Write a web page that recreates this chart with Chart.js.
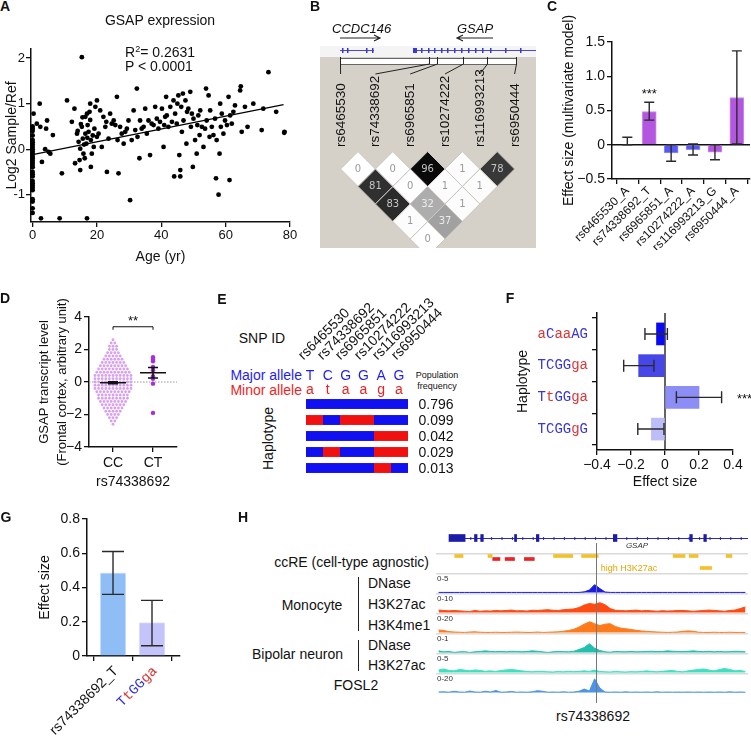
<!DOCTYPE html>
<html>
<head>
<meta charset="utf-8">
<script src="https://cdn.jsdelivr.net/npm/chart.js@4.4.1/dist/chart.umd.min.js"></script>
<style>
body{margin:0;width:751px;height:741px;position:relative;background:#fff;overflow:hidden;font-family:'Liberation Sans',Arial,sans-serif;color:#111}
canvas{position:absolute}
.t{position:absolute;white-space:nowrap;line-height:1;font-size:14px}
.c{transform:translate(-50%,-50%)}
.l{transform:translate(0,-50%)}
.r{transform:translate(-100%,-50%)}
.L{position:absolute;font-weight:bold;font-size:14px;line-height:1;transform:translate(-50%,-50%)}
.v90{position:absolute;white-space:nowrap;line-height:1;transform-origin:left top;transform:rotate(-90deg)}
.r45{position:absolute;white-space:nowrap;line-height:1;transform-origin:left bottom;transform:rotate(-45deg)}
.vl{position:absolute;border-left:1px solid #222;width:0}
.tk{position:absolute;font-size:8px;color:#333;line-height:1;transform:translate(0,-50%)}
</style>
</head>
<body>
<canvas id="cA" width="300" height="245" style="left:0;top:25px"></canvas>
<canvas id="cB" width="216" height="248" style="left:320px;top:0"></canvas>
<canvas id="cC" width="206" height="250" style="left:545px;top:0"></canvas>
<canvas id="cD" width="200" height="215" style="left:0;top:280px"></canvas>
<canvas id="cE" width="102" height="80" style="left:306px;top:396px"></canvas>
<canvas id="cF" width="251" height="195" style="left:500px;top:300px"></canvas>
<canvas id="cG" width="200" height="241" style="left:0;top:500px"></canvas>
<canvas id="cHgene" width="312" height="23" style="left:436px;top:530px"></canvas>
<canvas id="cHccre" width="312" height="20" style="left:436px;top:553px"></canvas>
<canvas id="cT0" width="312" height="20" style="left:436px;top:573px"></canvas>
<canvas id="cT1" width="312" height="20" style="left:436px;top:593px"></canvas>
<canvas id="cT2" width="312" height="20" style="left:436px;top:613px"></canvas>
<canvas id="cT3" width="312" height="20" style="left:436px;top:633px"></canvas>
<canvas id="cT4" width="312" height="20" style="left:436px;top:653px"></canvas>
<canvas id="cT5" width="312" height="30" style="left:436px;top:673px"></canvas>

<div class="L" style="left:5px;top:6px">A</div>
<div class="L" style="left:315px;top:6px">B</div>
<div class="L" style="left:552px;top:6px">C</div>
<div class="L" style="left:5px;top:298px">D</div>
<div class="L" style="left:222px;top:299px">E</div>
<div class="L" style="left:510px;top:298px">F</div>
<div class="L" style="left:6px;top:517px">G</div>
<div class="L" style="left:243px;top:517px">H</div>

<div class="t c" style="left:160px;top:20px">GSAP expression</div>
<div class="t l" style="left:125px;top:52px">R<sup style="font-size:9px">2</sup>= 0.2631</div>
<div class="t l" style="left:125px;top:66px">P &lt; 0.0001</div>

<div class="t l" style="left:332px;top:28px;font-style:italic;font-size:13px">CCDC146</div>
<div class="t l" style="left:457px;top:28px;font-style:italic;font-size:13px">GSAP</div>

<div class="t c" style="left:262px;top:338px">SNP ID</div>
<div class="t r" style="left:302px;top:375px;color:#1e1ef0">Major allele</div>
<div class="t r" style="left:302px;top:390px;color:#f01e1e">Minor allele</div>
<div class="t c" style="left:437px;top:375px;font-size:9px">Population</div>
<div class="t c" style="left:437px;top:386px;font-size:9px">frequency</div>
<div class="v90" style="left:261px;top:470px;font-size:14px">Haplotype</div>
<div id="eText"></div>
<div id="bText"></div>

<div class="t r" style="left:429px;top:562px">ccRE (cell-type agnostic)</div>
<div class="t c" style="left:312px;top:605px">Monocyte</div>
<div class="vl" style="left:358px;top:577px;height:54px"></div>
<div class="t l" style="left:368px;top:583px">DNase</div>
<div class="t l" style="left:368px;top:604px">H3K27ac</div>
<div class="t l" style="left:368px;top:625px">H3K4me1</div>
<div class="t r" style="left:343px;top:654px">Bipolar neuron</div>
<div class="vl" style="left:358px;top:640px;height:31px"></div>
<div class="t l" style="left:368px;top:645px">DNase</div>
<div class="t l" style="left:368px;top:665px">H3K27ac</div>
<div class="t c" style="left:356px;top:685px">FOSL2</div>
<div class="t c" style="left:593px;top:716px">rs74338692</div>
<div class="t c" style="left:637px;top:546px;font-size:8px;font-style:italic;color:#333">GSAP</div>
<div class="t c" style="left:629px;top:568px;font-size:9px;color:#e0a800">high H3K27ac</div>
<div class="tk" style="left:437px;top:579px">0-5</div>
<div class="tk" style="left:437px;top:599px">0-10</div>
<div class="tk" style="left:437px;top:619px">0-20</div>
<div class="tk" style="left:437px;top:639px">0-1</div>
<div class="tk" style="left:437px;top:659px">0-5</div>
<div class="tk" style="left:437px;top:679px">0-20</div>

<script>
(function(){
    'use strict';

    //panelA
    const ageYr = [
        0,0,0,0,0,0,0,0,0,0,
        0,0,0,0,0,0,0,0,0,0,
        0,0,0,0,0,0,0,0,0,0.3,
        1.3,2.2,2.4,2.6,2.9,3.9,4.2,4.5,5,5.5,
        6.3,8.4,9.1,10.7,12.2,13,13.2,13.8,14.3,14.6,
        14.8,14.8,15.3,15.3,15.6,15.8,16.4,16.4,16.7,16.9,
        16.9,17.1,17.4,17.7,17.9,17.9,18.1,18.4,18.1,19,
        19.5,20,20,20.5,21,21.5,22,22.6,22.9,23.1,
        23.6,24.1,24.6,25.2,25.7,26.2,26.4,26.7,27.2,27.7,
        28.3,28.8,29.3,29.8,30.3,30.8,31.4,31.9,32.4,32.6,
        33.2,33.4,33.9,34.5,35,35.5,36,36.5,37,37.6,
        38.1,38.6,39.1,39.6,40.2,40.7,40.9,41.2,41.5,41.7,
        42.2,42.8,43.3,43.8,44,44.3,44.8,45,45.3,45.6,
        45.9,45.9,46.2,46.4,46.7,46.9,47.5,47.8,48,48.4,
        49,49.2,49.5,49.8,50,50.5,51,51.2,51.5,51.9,
        52.1,52.6,53.1,53.6,53.9,54.1,54.7,55,55.2,55.7,
        56.2,56.7,57,57.2,57.8,58.1,58.3,58.5,58.8,59.3,
        59.8,60.4,60.9,61.2,61.4,61.9,62.4,62.9,64.5,64.7,
        65,66,66.8,68.6,71.2,71.7,73.3,75.7,78.2,78.3,
        14,15,15.5,16,16.2,17,18.7,19.2
    ];
    const log2Ratio = [
        0.5,0.45,0.4,0.3,0.2,0.15,0.1,0.05,0,-0.05,
        -0.1,-0.15,-0.2,-0.25,-0.3,-0.35,-0.4,-0.5,-0.55,-0.6,
        -0.7,-0.75,-0.8,-0.85,-0.9,-1.1,-1.15,-1.3,-1.4,0.78,
        0.56,1.0,0.49,-1.52,-0.28,0,0.45,0.63,-0.06,-0.1,
        0.31,-1.52,-0.53,1.07,0.6,0.89,-0.31,0.34,0.16,-0.24,
        -0.46,0.01,2.02,0.49,0.23,-0.1,0.71,0.34,0.12,0.78,
        -1.52,0.53,0.38,0.82,0.64,1.0,0.2,-0.1,-0.39,0.05,
        0.93,1.07,0.27,0.34,0.85,0.05,0.71,0.49,0.6,-0.5,
        0.23,0.78,0.56,0.63,0.53,1.15,0.2,-0.53,0.49,0.34,
        0.12,0.38,0.45,0.63,-1.12,0.2,0.85,0.42,1.33,0.27,
        -0.2,0.63,0.45,0.49,0.89,0.34,0.63,-0.13,0.56,0.53,
        0.93,0.67,0.45,0.6,0.89,0.05,0.53,0.71,1.15,0.74,
        0.49,0.93,0.6,1.07,-0.6,0.78,0.56,1.0,1.18,-0.13,
        -0.46,-0.6,0.93,0.38,1.22,0.63,1.07,0.12,0.82,0.89,
        1.26,0.49,0.78,-0.39,0.67,0.2,-0.1,0.53,0.74,0.31,
        0.85,0.49,0.05,0.45,1.33,0.63,1.18,0.27,0.85,0.49,
        0.31,0.67,-0.64,0.2,-1.0,-0.1,1.0,0.49,0.78,0.34,
        0.63,0.53,1.15,-0.68,0.74,0.56,0.82,0.96,1.29,1.38,
        0.38,0.93,0.49,1.0,0.42,0.89,1.69,0.82,0.36,0.38,
        0.4,0.55,0.7,0.1,-0.2,0.25,0.3,0.45
    ];
    const fitAge = [0, 78];
    const fitLog2 = [-0.12, 0.98];
    const ageTicks = [0, 20, 40, 60, 80];
    const log2Ticks = [-1, 0, 1, 2];

    //panelB
    const snpIds = ['rs6465530', 'rs74338692', 'rs6965851', 'rs10274222', 'rs116993213', 'rs6950444'];
    const ldRows = [[0, 0, 96, 1, 78], [81, 0, 1, 1], [83, 32, 1], [1, 37], [0]];

    //panelC
    const cAllele = ['A', 'T', 'A', 'A', 'G', 'A'];
    const cEffect = [0, 0.485, -0.12, -0.07, -0.11, 0.69];
    const cLo = [0, 0.36, -0.24, -0.15, -0.22, 0.01];
    const cHi = [0.11, 0.62, 0, 0.01, 0, 1.37];
    const cTicks = [-0.5, 0, 0.5, 1.0, 1.5];
    const cColors = ['#b457e0', '#b457e0', '#5858f2', '#5858f2', '#b457e0', '#b457e0'];

    //panelD
    const dGroups = ['CC', 'CT'];
    const ccLevels = [2.6,2.4,2.2,2.0,1.8,1.6,1.4,1.2,1.0,0.8,0.6,0.4,0.2,0,
        -0.2,-0.4,-0.6,-0.8,-1.0,-1.2,-1.4,-1.6,-1.8,-2.0,-2.2,-2.4,-2.6];
    const ccCounts = [1,2,3,3,4,5,6,7,8,9,10,11,11,11,11,11,10,9,9,8,7,6,5,4,3,2,1];
    const ctValues = [1.53, 1.38, 1.27, 0.92, 0.86, 0.72, 0.35, 0.2, -0.1, -1.9];
    const dMeans = [-0.05, 0.57];
    const dSem = [0.06, 0.33];
    const dTicks = [-4, -2, 0, 2, 4];

    //panelE
    const majorAllele = 'TCGGAG';
    const minorAllele = 'ataaga';
    const haplotypes = ['TCGGAG', 'aCaaAG', 'TCGGga', 'TtGGga', 'TCGGgG'];
    const hapFreq = ['0.796', '0.099', '0.042', '0.029', '0.013'];

    //panelF
    const fHaps = ['aCaaAG', 'TCGGga', 'TtGGga', 'TCGGgG'];
    const fEffect = [-0.05, -0.155, 0.2, -0.08];
    const fLo = [-0.118, -0.243, 0.067, -0.16];
    const fHi = [0.014, -0.065, 0.333, -0.006];
    const fTicks = [-0.4, -0.2, 0, 0.2, 0.4];
    const fColors = ['#0b0bf2', '#4747e8', '#8d8df6', '#bdbdf9'];

    //panelG
    const gLabels = ['rs74338692_T', 'TtGGga'];
    const gEffect = [0.485, 0.195];
    const gLo = [0.36, 0.06];
    const gHi = [0.61, 0.325];
    const gTicks = [0, 0.2, 0.4, 0.6, 0.8];
    const gColors = ['#8fbef7', '#c4c4fb'];

    //panelH
    const snpPos = 30.8;
    const geneSpan = [2.5, 60];
    const geneExons = [[2.5, 5.6], [7.4, 7.9], [8.6, 9.1], [15.1, 15.5], [19.3, 19.8], [34.1, 34.8], [48.8, 49.3], [51.5, 52.0]];
    const ccreYellow = [[3.6, 5.2], [10.0, 10.8], [22.6, 26.3], [28.0, 31.2], [45.6, 47.9], [48.7, 50.4], [55.8, 56.9]];
    const ccreRed = [[10.9, 12.3], [13.3, 15.1], [17.0, 18.9]];
    const ccreYellow2 = [[50.8, 53.0]];
    const monoDnase = [0,0,0,0,0,0,0,0,0,0, 0,0,0,0,0,0,0,0,0,0, 0,0,0,0,0,0,0,0,0.15,0.6,
        2.0,1.0,0.1,0,0,0,0,0,0,0, 0,0,0,0,0,0,0,0,0,0, 0,0,0,0,0,0,0,0,0,0];
    const monoK27 = [1.2,1.0,0.8,1.0,0.8,0.6,0.5,1.0,0.6,0.8, 0.7,1.0,0.8,1.0,1.2,0.8,0.9,0.7,1.1,1.0,
        1.2,1.4,1.1,1.0,1.4,1.6,1.8,2.5,3.8,4.6, 4.2,5.0,4.0,2.0,1.1,1.0,0.8,1.0,1.2,0.8,
        1.0,0.8,0.6,0.9,0.7,0.8,1.0,1.0,0.8,0.6, 0.8,1.0,1.2,1.0,0.8,0.6,1.0,1.2,2.0,2.8];
    const monoK4me1 = [2.5,2,0.8,0.4,0.2,0,0.4,0.6,0.2,0, 0,0.2,0,0,0.2,0.4,0.2,0,0,0.4,
        0,0.2,0.4,0.6,1.2,2,3.2,5.5,8.5,11, 9,7,8.5,9,6,4.5,3.8,3,2.2,1.5,
        1.1,0.8,0.4,0.2,0,0.2,0.4,1.2,1.5,1.2, 0.2,0,0,0.2,0,0,0.2,0,0,0];
    const bipDnase = [0.08,0.03,0.05,0,0.03,0.04,0,0.03,0.05,0.08, 0.05,0.04,0.05,0.03,0.06,0.05,0.03,0.05,0.08,0.06,
        0.03,0,0.03,0.05,0.04,0.03,0.06,0.15,0.25,0.45, 0.22,0.1,0.03,0.01,0.05,0.04,0.03,0.05,0.03,0.04,
        0.05,0.06,0.04,0.05,0.08,0.06,0.05,0.04,0.06,0.08, 0.05,0.04,0.06,0.03,0.05,0.03,0.04,0.06,0.05,0.03];
    const bipK27 = [0.6,0.9,0.5,0.4,0.75,0.6,0.4,0.65,0.5,0.3, 0.4,0.25,0.5,0.65,0.75,0.6,0.4,0.25,0.15,0.3,
        0.25,0.15,0.1,0.25,0.15,0.3,0.2,0.25,0.4,0.25, 0.6,0.25,0.15,0.1,0.25,0.15,0.1,0.2,0.15,0.25,
        0.4,0.25,0.15,0.3,0.4,0.5,0.25,0.15,0.4,0.6, 0.75,0.9,0.6,0.4,0.75,1.0,0.75,0.4,0.5,0.25];
    const fosl2 = [0.4,0.6,0.2,1.2,0.4,0.2,1.4,0.4,0.2,1.2, 0.4,2.0,0.2,0.4,1.0,0.2,0.4,0.2,0.6,1.8,
        1.2,0.2,0.4,0.2,0.6,0.2,0.4,1.2,3.5,1.5, 14,4.5,0.4,0.2,0.4,0.2,0.6,0.2,0.4,0.2,
        0.4,0.2,0.6,0.2,0.4,0.2,0.4,0.2,0.4,0.2, 0.4,0.2,0.4,0.2,0.4,0.2,0.6,0.2,0.4,0.2];


    Chart.defaults.font.family = "'Liberation Sans', Arial, sans-serif";
    Chart.defaults.color = '#111';
    Chart.defaults.animation = false;
    Chart.defaults.responsive = false;
    Chart.defaults.layout.autoPadding = false;
    Chart.defaults.plugins.legend.display = false;
    Chart.defaults.plugins.tooltip.enabled = false;

    const minus = v => (v < 0 ? '\u2212' : '') + Math.abs(v);
    const minus1 = v => v === 0 ? '0' : (v < 0 ? '\u2212' : '') + Math.abs(v).toFixed(1);

    function fixBox(size){
        return function(s){
            if (s.isHorizontal()) s.height = size; else s.width = size;
            s.paddingLeft = s.paddingRight = s.paddingTop = s.paddingBottom = 0;
        };
    }
    function setTicks(vals){
        return function(s){ s.ticks = vals.map(v => ({value: v})); };
    }
    function axis(o){
        const t = Object.assign({font: {size: 14}, color: '#111', padding: 2, autoSkip: false, maxRotation: 0}, o.ticks || {});
        return Object.assign({
            grid: {drawOnChartArea: false, color: '#111', lineWidth: 1.3, tickLength: 5},
            border: {color: '#111', width: 1.5}
        }, o, {ticks: t});
    }
    function title(text, size){
        return {display: true, text: text, font: {size: size || 14}, color: '#111', padding: {top: 4, bottom: 4}};
    }
    function errorBars(lo, hi, horiz, cap){
        return {
            id: 'errorBars',
            afterDatasetsDraw(chart){
                const ctx = chart.ctx, xs = chart.scales.x, ys = chart.scales.y;
                ctx.save();
                ctx.strokeStyle = '#2a2a2a';
                ctx.lineWidth = 1.4;
                lo.forEach((l, i) => {
                    ctx.beginPath();
                    if (horiz){
                        const y = ys.getPixelForValue(i), a = xs.getPixelForValue(l), b = xs.getPixelForValue(hi[i]);
                        ctx.moveTo(a, y); ctx.lineTo(b, y);
                        ctx.moveTo(a, y - cap); ctx.lineTo(a, y + cap);
                        ctx.moveTo(b, y - cap); ctx.lineTo(b, y + cap);
                    } else {
                        const x = xs.getPixelForValue(i), a = ys.getPixelForValue(l), b = ys.getPixelForValue(hi[i]);
                        ctx.moveTo(x, a); ctx.lineTo(x, b);
                        ctx.moveTo(x - cap, a); ctx.lineTo(x + cap, a);
                        ctx.moveTo(x - cap, b); ctx.lineTo(x + cap, b);
                    }
                    ctx.stroke();
                });
                ctx.restore();
            }
        };
    }
    function drawColoredText(ctx, str, x, y){
        for (const ch of str){
            ctx.fillStyle = ch === ch.toUpperCase() ? '#3535d8' : '#e03535';
            ctx.fillText(ch, x, y);
            x += ctx.measureText(ch).width;
        }
    }


    //panelA
    new Chart(document.getElementById('cA'), {
        type: 'scatter',
        data: {
            datasets: [
                {
                    data: ageYr.map((a, i) => ({x: a, y: log2Ratio[i]})),
                    pointRadius: 2.4,
                    backgroundColor: '#000',
                    borderWidth: 0,
                    clip: false
                },
                {
                    type: 'line',
                    data: fitAge.map((a, i) => ({x: a, y: fitLog2[i]})),
                    borderColor: '#000',
                    borderWidth: 1.3,
                    pointRadius: 0
                }
            ]
        },
        options: {
            layout: {padding: {top: 24, right: 10}},
            scales: {
                x: axis({type: 'linear', min: -0.5, max: 80, afterBuildTicks: setTicks(ageTicks),
                    afterFit: fixBox(48), title: title('Age (yr)'),
                    ticks: {font: {size: 13}, padding: 1}}),
                y: axis({type: 'linear', min: -1.6, max: 2.2, afterBuildTicks: setTicks(log2Ticks),
                    afterFit: fixBox(31), title: title('Log2 Sample/Ref'),
                    ticks: {font: {size: 13}, padding: 1}})
            }
        }
    });


    //panelB
    const ldPts = [], ldVals = [];
    ldRows.forEach((row, k) => {
        row.forEach((v, i) => {
            ldPts.push({x: i + (k + 1) / 2, y: k + 1});
            ldVals.push(v);
        });
    });
    const shade = v => { const g = Math.round(255 * (1 - v / 100)); return `rgb(${g},${g},${g})`; };

    const bDraw = {
        id: 'bDraw',
        beforeDraw(chart){
            const ctx = chart.ctx, xs = chart.scales.x;
            ctx.save();
            ctx.fillStyle = '#d5d1c9';
            ctx.fillRect(0, 57, 216, 191);
            ctx.fillStyle = '#f4f4f4';
            ctx.fillRect(0, 46, 216, 11);
            ctx.strokeStyle = '#4a4ad0';
            ctx.lineWidth = 1;
            ctx.beginPath();
            ctx.moveTo(20, 50.5); ctx.lineTo(54, 50.5);
            ctx.moveTo(93, 50.5); ctx.lineTo(216, 50.5);
            ctx.stroke();
            ctx.fillStyle = '#3a3ac8';
            [22, 27, 46, 52].forEach(x => ctx.fillRect(x, 48, 1.5, 5));
            ctx.fillRect(93, 48, 4, 5);
            [101, 108, 114, 121, 127, 134, 141, 148, 155, 162, 170, 185, 200].forEach(x => ctx.fillRect(x, 48, 1.5, 5));
            // bar and snp ticks
            ctx.fillStyle = '#fff';
            ctx.fillRect(20, 58, 176, 6);
            ctx.strokeStyle = '#666';
            ctx.strokeRect(20.5, 58.5, 176, 6);
            ctx.strokeStyle = '#222';
            [20, 109, 117, 143, 167, 196].forEach((p, i) => {
                const lx = xs.getPixelForValue(i);
                ctx.beginPath();
                ctx.moveTo(p + 0.5, 57);
                ctx.lineTo(p + 0.5, 64);
                ctx.lineTo(lx, 74);
                ctx.stroke();
            });
            // gene arrows
            ctx.lineWidth = 1.2;
            ctx.beginPath();
            ctx.moveTo(20, 38); ctx.lineTo(60, 38);
            ctx.moveTo(54, 35); ctx.lineTo(60, 38); ctx.lineTo(54, 41);
            ctx.moveTo(173, 38); ctx.lineTo(137, 38);
            ctx.moveTo(143, 35); ctx.lineTo(137, 38); ctx.lineTo(143, 41);
            ctx.stroke();
            ctx.restore();
        },
        afterDatasetsDraw(chart){
            const ctx = chart.ctx, xs = chart.scales.x, ys = chart.scales.y;
            ctx.save();
            ctx.font = "10px 'DejaVu Sans'";
            ctx.textAlign = 'center';
            ctx.textBaseline = 'middle';
            ldPts.forEach((p, i) => {
                const v = ldVals[i];
                ctx.fillStyle = v > 60 ? '#c4c4c4' : v > 20 ? '#ececec' : '#9a9a9a';
                ctx.fillText(String(v), xs.getPixelForValue(p.x), ys.getPixelForValue(p.y));
            });
            ctx.restore();
        }
    };

    new Chart(document.getElementById('cB'), {
        type: 'scatter',
        data: {
            datasets: [{
                data: ldPts,
                pointStyle: 'rectRot',
                pointRadius: 17.4,
                pointBackgroundColor: ldVals.map(shade),
                pointBorderColor: '#cbc7bf',
                pointBorderWidth: 1
            }]
        },
        options: {
            scales: {
                x: {type: 'linear', display: false, min: -0.592, max: 5.615},
                y: {type: 'linear', display: false, min: -8.657, max: 5.514, reverse: true}
            }
        },
        plugins: [bDraw]
    });

    const bText = document.getElementById('bText');
    snpIds.forEach((s, i) => {
        const d = document.createElement('div');
        d.className = 'v90';
        d.style.fontSize = '13.5px';
        d.style.left = (340.6 + 34.8 * i - 7) + 'px';
        d.style.top = '147px';
        d.textContent = s;
        bText.appendChild(d);
    });


    //panelC
    new Chart(document.getElementById('cC'), {
        type: 'bar',
        data: {
            datasets: [{
                data: cEffect.map((v, i) => ({x: i, y: v})),
                backgroundColor: cColors,
                borderColor: cColors.map(c => c + 'aa'),
                borderWidth: 1,
                barThickness: 14
            }]
        },
        options: {
            layout: {padding: {top: 42, left: 12, right: 1}},
            scales: {
                x: axis({type: 'linear', min: -0.7, max: 5.6, offset: false, afterBuildTicks: setTicks([0, 1, 2, 3, 4, 5]),
                    afterFit: fixBox(71),
                    ticks: {font: {size: 12}, minRotation: 45, maxRotation: 45, padding: 0,
                        callback: v => snpIds[v] + '_' + cAllele[v]}}),
                y: axis({type: 'linear', min: -0.5, max: 1.5, afterBuildTicks: setTicks(cTicks),
                    afterFit: fixBox(55), title: title('Effect size (multivariate model)'),
                    ticks: {callback: minus1}})
            }
        },
        plugins: [
            {
                id: 'zeroC',
                beforeDatasetsDraw(chart){
                    const ctx = chart.ctx, a = chart.chartArea, y0 = chart.scales.y.getPixelForValue(0);
                    ctx.save();
                    ctx.strokeStyle = '#111';
                    ctx.lineWidth = 1.3;
                    ctx.beginPath(); ctx.moveTo(a.left, y0); ctx.lineTo(a.right, y0); ctx.stroke();
                    ctx.restore();
                },
                afterDraw(chart){
                    const ctx = chart.ctx;
                    ctx.save();
                    ctx.font = "13px 'Liberation Sans'";
                    ctx.textAlign = 'center';
                    ctx.textBaseline = 'middle';
                    ctx.fillStyle = '#111';
                    ctx.fillText('***', chart.scales.x.getPixelForValue(1), chart.scales.y.getPixelForValue(0.74));
                    ctx.restore();
                }
            },
            errorBars(cLo, cHi, false, 5)
        ]
    });


    //panelD
    const ccPts = [];
    ccLevels.forEach((lv, r) => {
        const n = ccCounts[r];
        for (let k = 0; k < n; k++){
            ccPts.push({x: (k - (n - 1) / 2) * 0.09, y: lv});
        }
    });

    const dTitle = title(['GSAP transcript level', '(Frontal cortex, arbitrary unit)'], 13);
    dTitle.font.lineHeight = 1.35;

    new Chart(document.getElementById('cD'), {
        type: 'scatter',
        data: {
            datasets: [
                {data: ccPts, pointRadius: 1.4, backgroundColor: '#d9a0f2', borderWidth: 0},
                {data: ctValues.map(v => ({x: 1, y: v})), pointRadius: 2.2, backgroundColor: '#a52fe0', borderWidth: 0}
            ]
        },
        options: {
            layout: {padding: {top: 37, left: 32, right: 23}},
            scales: {
                x: axis({type: 'linear', min: -0.6, max: 1.6, afterBuildTicks: setTicks([0, 1]),
                    afterFit: fixBox(48), title: title('rs74338692'),
                    ticks: {padding: 3, callback: v => dGroups[v]}}),
                y: axis({type: 'linear', min: -4, max: 4, afterBuildTicks: setTicks(dTicks),
                    afterFit: fixBox(57), title: dTitle,
                    ticks: {callback: minus}})
            }
        },
        plugins: [{
            id: 'dExtras',
            beforeDatasetsDraw(chart){
                const ctx = chart.ctx, a = chart.chartArea, y0 = chart.scales.y.getPixelForValue(0);
                ctx.save();
                ctx.strokeStyle = '#9a9a9a';
                ctx.setLineDash([1.5, 1.5]);
                ctx.lineWidth = 1;
                ctx.beginPath(); ctx.moveTo(a.left, y0); ctx.lineTo(a.right, y0); ctx.stroke();
                ctx.restore();
            },
            afterDatasetsDraw(chart){
                const ctx = chart.ctx, x = chart.scales.x, y = chart.scales.y;
                ctx.save();
                ctx.strokeStyle = '#111';
                ctx.lineWidth = 1.5;
                dMeans.forEach((m, i) => {
                    const cx = x.getPixelForValue(i), ym = y.getPixelForValue(m);
                    const y1 = y.getPixelForValue(m - dSem[i]), y2 = y.getPixelForValue(m + dSem[i]);
                    ctx.beginPath();
                    ctx.moveTo(cx - 13, ym); ctx.lineTo(cx + 13, ym);
                    ctx.moveTo(cx, y1); ctx.lineTo(cx, y2);
                    ctx.moveTo(cx - 5, y1); ctx.lineTo(cx + 5, y1);
                    ctx.moveTo(cx - 5, y2); ctx.lineTo(cx + 5, y2);
                    ctx.stroke();
                });
                const by = y.getPixelForValue(3.4), xa = x.getPixelForValue(0), xb = x.getPixelForValue(1);
                ctx.lineWidth = 1;
                ctx.beginPath();
                ctx.moveTo(xa, by + 3); ctx.lineTo(xa, by); ctx.lineTo(xb, by); ctx.lineTo(xb, by + 3);
                ctx.stroke();
                ctx.fillStyle = '#111';
                ctx.font = "13px 'Liberation Sans'";
                ctx.textAlign = 'center';
                ctx.fillText('**', (xa + xb) / 2, by - 2);
                ctx.restore();
            }
        }]
    });


    //panelE
    new Chart(document.getElementById('cE'), {
        type: 'bar',
        data: {
            labels: haplotypes,
            datasets: majorAllele.split('').map((m, j) => ({
                data: haplotypes.map(() => 1),
                backgroundColor: haplotypes.map(h => h[j] === h[j].toUpperCase() ? '#1010f0' : '#f01010'),
                borderWidth: 0,
                barPercentage: 0.62,
                categoryPercentage: 1
            }))
        },
        options: {
            indexAxis: 'y',
            scales: {
                x: {stacked: true, min: 0, max: 6, display: false},
                y: {stacked: true, display: false}
            }
        }
    });

    const eText = document.getElementById('eText');
    function addText(cls, txt, x, y, style){
        const d = document.createElement('div');
        d.className = cls;
        d.style.left = x + 'px';
        d.style.top = y + 'px';
        if (style) Object.assign(d.style, style);
        d.textContent = txt;
        eText.appendChild(d);
    }
    snpIds.forEach((s, i) => {
        addText('r45', s, 305 + 18.5 * i, 362 - 14, {fontSize: '14px'});
    });
    majorAllele.split('').forEach((ch, i) => addText('t c', ch, 310 + 17.8 * i, 375, {color: '#1e1ef0'}));
    minorAllele.split('').forEach((ch, i) => addText('t c', ch, 310 + 17.8 * i, 389, {color: '#f01e1e'}));
    hapFreq.forEach((f, i) => addText('t c', f, 436, 404 + 16 * i));


    //panelF
    new Chart(document.getElementById('cF'), {
        type: 'bar',
        data: {
            datasets: [{
                data: fEffect.map((v, i) => ({x: v, y: i})),
                backgroundColor: fColors,
                borderWidth: 0,
                barThickness: 22
            }]
        },
        options: {
            indexAxis: 'y',
            layout: {padding: {top: 13, left: 11, right: 18}},
            scales: {
                x: axis({type: 'linear', min: -0.4, max: 0.4, afterBuildTicks: setTicks(fTicks),
                    afterFit: fixBox(45), title: title('Effect size'),
                    ticks: {callback: minus1}}),
                y: axis({type: 'linear', min: -0.66, max: 3.66, reverse: true, offset: false,
                    afterBuildTicks: setTicks([0, 1, 2, 3]),
                    afterFit: fixBox(86), title: title('Haplotype'),
                    ticks: {callback: () => ''}})
            }
        },
        plugins: [
            {
                id: 'fExtras',
                beforeDatasetsDraw(chart){
                    const ctx = chart.ctx, a = chart.chartArea, x0 = chart.scales.x.getPixelForValue(0);
                    ctx.save();
                    ctx.strokeStyle = '#111';
                    ctx.lineWidth = 1.3;
                    ctx.beginPath(); ctx.moveTo(x0, a.top); ctx.lineTo(x0, a.bottom); ctx.stroke();
                    ctx.restore();
                },
                afterDraw(chart){
                    const ctx = chart.ctx, ys = chart.scales.y;
                    ctx.save();
                    ctx.font = "14px 'Liberation Mono', monospace";
                    ctx.textBaseline = 'middle';
                    fHaps.forEach((h, i) => {
                        const w = ctx.measureText(h).width;
                        drawColoredText(ctx, h, ys.right - 9 - w, ys.getPixelForValue(i));
                    });
                    ctx.font = "13px 'Liberation Sans'";
                    ctx.fillStyle = '#111';
                    ctx.fillText('***', chart.chartArea.right + 4, ys.getPixelForValue(2) + 2);
                    ctx.restore();
                }
            },
            errorBars(fLo, fHi, true, 6)
        ]
    });


    //panelG
    new Chart(document.getElementById('cG'), {
        type: 'bar',
        data: {
            datasets: [{
                data: gEffect.map((v, i) => ({x: i, y: v})),
                backgroundColor: gColors,
                borderColor: '#e0e8ff',
                borderWidth: 1,
                barThickness: 26
            }]
        },
        options: {
            layout: {padding: {top: 19, left: 33, right: 20}},
            scales: {
                x: axis({type: 'linear', min: -0.667, max: 1.718, offset: false, afterBuildTicks: setTicks([0, 1]),
                    afterFit: fixBox(85), ticks: {callback: () => ''}}),
                y: axis({type: 'linear', min: 0, max: 0.8, afterBuildTicks: setTicks(gTicks),
                    afterFit: fixBox(54), title: title('Effect size'),
                    ticks: {callback: minus1}})
            }
        },
        plugins: [
            {
                id: 'gLabels',
                afterDraw(chart){
                    const ctx = chart.ctx, xs = chart.scales.x;
                    ctx.save();
                    ctx.textBaseline = 'middle';
                    gLabels.forEach((lab, i) => {
                        ctx.save();
                        ctx.translate(xs.getPixelForValue(i) + 3, xs.top + 13);
                        ctx.rotate(-Math.PI / 4);
                        if (i === 0){
                            ctx.font = "14px 'Liberation Sans'";
                            ctx.fillStyle = '#111';
                            ctx.textAlign = 'right';
                            ctx.fillText(lab, 0, 0);
                        } else {
                            ctx.font = "14px 'Liberation Mono', monospace";
                            const w = ctx.measureText(lab).width;
                            drawColoredText(ctx, lab, -w, 0);
                        }
                        ctx.restore();
                    });
                    ctx.restore();
                }
            },
            errorBars(gLo, gHi, false, 11)
        ]
    });


    //panelH
    function snpLine(y0){
        return {
            id: 'snpLine',
            afterDraw(chart){
                const ctx = chart.ctx, x = Math.round(chart.scales.x.getPixelForValue(snpPos)) + 0.5;
                ctx.save();
                ctx.strokeStyle = '#777';
                ctx.lineWidth = 1;
                ctx.beginPath(); ctx.moveTo(x, y0); ctx.lineTo(x, chart.height); ctx.stroke();
                ctx.restore();
            }
        };
    }
    const sepLine = {
        id: 'sepLine',
        beforeDraw(chart){
            const ctx = chart.ctx;
            ctx.save();
            ctx.strokeStyle = '#dadada';
            ctx.lineWidth = 1.5;
            ctx.beginPath(); ctx.moveTo(0, 0.75); ctx.lineTo(chart.width, 0.75); ctx.stroke();
            ctx.restore();
        }
    };
    const geneLine = {
        id: 'geneLine',
        beforeDatasetsDraw(chart){
            const ctx = chart.ctx, x = chart.scales.x, yy = Math.round(chart.scales.y.getPixelForValue(0)) + 0.5;
            ctx.save();
            ctx.strokeStyle = '#2a2ab8';
            ctx.lineWidth = 1;
            ctx.beginPath();
            ctx.moveTo(x.getPixelForValue(geneSpan[0]), yy); ctx.lineTo(x.getPixelForValue(geneSpan[1]), yy);
            ctx.stroke();
            for (let u = geneSpan[0] + 2; u < geneSpan[1]; u += 2){
                const px = x.getPixelForValue(u);
                ctx.beginPath();
                ctx.moveTo(px + 1.5, yy - 1.5); ctx.lineTo(px, yy); ctx.lineTo(px + 1.5, yy + 1.5);
                ctx.stroke();
            }
            ctx.restore();
        }
    };

    new Chart(document.getElementById('cHgene'), {
        type: 'bar',
        data: {
            datasets: [{
                data: geneExons.map(e => ({x: e, y: 0})),
                backgroundColor: '#1c1ca8',
                barThickness: 7
            }]
        },
        options: {
            indexAxis: 'y',
            scales: {
                x: {type: 'linear', display: false, min: 0, max: 60},
                y: {type: 'linear', display: false, min: -1, max: 1.875, reverse: true, offset: false}
            }
        },
        plugins: [geneLine, snpLine(13)]
    });

    new Chart(document.getElementById('cHccre'), {
        type: 'bar',
        data: {
            datasets: [
                {data: ccreYellow.map(e => ({x: e, y: 0})), backgroundColor: '#f2c12e', barThickness: 3},
                {data: ccreRed.map(e => ({x: e, y: 0})), backgroundColor: '#ee2222', barThickness: 3},
                {data: ccreYellow2.map(e => ({x: e, y: 1})), backgroundColor: '#f2c12e', barThickness: 3}
            ]
        },
        options: {
            indexAxis: 'y',
            scales: {
                x: {type: 'linear', display: false, min: 0, max: 60},
                y: {type: 'linear', display: false, min: -1, max: 2.33, reverse: true, offset: false}
            }
        },
        plugins: [sepLine, snpLine(0)]
    });

    function track(id, vals, color, maxV, tail){
        new Chart(document.getElementById(id), {
            type: 'line',
            data: {
                datasets: [{
                    data: vals.map((v, i) => ({x: i + 0.5, y: v})),
                    borderColor: color,
                    backgroundColor: color,
                    borderWidth: 1,
                    pointRadius: 0,
                    fill: 'origin',
                    tension: 0
                }]
            },
            options: {
                layout: {padding: {bottom: tail}},
                scales: {
                    x: {type: 'linear', display: false, min: 0, max: 60},
                    y: {type: 'linear', display: false, min: -maxV * 0.03, max: maxV}
                }
            },
            plugins: [sepLine, snpLine(0)]
        });
    }
    track('cT0', monoDnase, '#1a1ae6', 5, 0);
    track('cT1', monoK27, '#ff4a12', 10, 0);
    track('cT2', monoK4me1, '#ff7a1a', 20, 0);
    track('cT3', bipDnase, '#22bfae', 1, 0);
    track('cT4', bipK27, '#3de0c0', 5, 0);
    track('cT5', fosl2, '#4d94e6', 20, 10);
})();
</script>
</body>
</html>
